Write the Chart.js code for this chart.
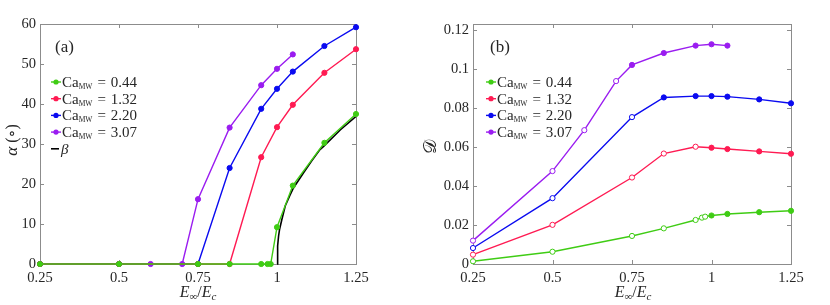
<!DOCTYPE html>
<html>
<head>
<meta charset="utf-8">
<script src="https://cdn.jsdelivr.net/npm/chart.js@4"></script>
<style>
  body { margin: 0; background: #fff; width: 830px; height: 305px; overflow: hidden; position: relative; }
  .panel { position: absolute; top: 0; width: 410px; height: 305px; }
</style>
</head>
<body>
<div class="panel" style="left:0"><canvas id="chartA" width="410" height="305"></canvas></div>
<div class="panel" style="left:420px"><canvas id="chartB" width="410" height="305"></canvas></div>
<script>
// capillary numbers and colours
const caLabels = ['0.44', '1.32', '2.20', '3.07'];
const colors = ['#3fcc14', '#ff1a52', '#0a0af0', '#9a1cf0'];

// E_inf / E_c sample positions
const xGreen = [0.25, 0.5, 0.75, 0.85, 0.95, 0.97, 0.98, 1.0, 1.05, 1.15, 1.25];
const xRed = [0.25, 0.5, 0.75, 0.85, 0.95, 1.0, 1.05, 1.15, 1.25];
const xBlue = [0.25, 0.5, 0.75, 0.85, 0.95, 1.0, 1.05, 1.15, 1.25];
const xPurple = [0.25, 0.5, 0.6, 0.7, 0.75, 0.85, 0.95, 1.0, 1.05];

// (a) tilt angle alpha in degrees
const alphaGreen = [0, 0, 0, 0, 0, 0, 0, 9.2, 19.6, 30.3, 37.5];
const alphaRed = [0, 0, 0, 0, 26.7, 34.2, 39.8, 47.8, 53.7];
const alphaBlue = [0, 0, 0, 24.0, 38.8, 43.8, 48.1, 54.5, 59.2];
const alphaPurple = [0, 0, 0, 0, 16.2, 34.1, 44.7, 48.8, 52.4];

// (a) beta curve
const betaX = [1.0, 1.002, 1.005, 1.008, 1.015, 1.026, 1.04, 1.052, 1.084, 1.11, 1.136, 1.15, 1.2, 1.25];
const betaY = [0, 4.5, 7, 8.6, 11, 14.5, 17, 19, 22.8, 25.8, 28.6, 29.6, 33.5, 36.9];

// (b) deformation D
const dGreen = [0.0014, 0.0063, 0.0144, 0.0183, 0.0226, 0.0238, 0.0243, 0.0249, 0.0257, 0.0266, 0.0273];
const dRed = [0.0048, 0.0201, 0.0444, 0.0567, 0.0602, 0.0597, 0.0590, 0.0578, 0.0566];
const dBlue = [0.0082, 0.0338, 0.0754, 0.0855, 0.0862, 0.0862, 0.0859, 0.0845, 0.0825];
const dPurple = [0.0120, 0.0477, 0.0687, 0.0939, 0.1022, 0.1083, 0.1121, 0.1128, 0.1121];

// (b) open (1) vs filled (0) markers
const openGreen = [1, 1, 1, 1, 1, 1, 1, 0, 0, 0, 0];
const openRed = [1, 1, 1, 1, 1, 0, 0, 0, 0];
const openBlue = [1, 1, 1, 0, 0, 0, 0, 0, 0];
const openPurple = [1, 1, 1, 1, 0, 0, 0, 0, 0];

// ticks
const xTicks = [0.25, 0.5, 0.75, 1, 1.25];
const xTickText = ['0.25', '0.5', '0.75', '1', '1.25'];
const alphaTicks = [0, 10, 20, 30, 40, 50, 60];
const alphaTickText = ['0', '10', '20', '30', '40', '50', '60'];
const dTicks = [0, 0.02, 0.04, 0.06, 0.08, 0.1, 0.12];
const dTickText = ['0', '0.02', '0.04', '0.06', '0.08', '0.1', '0.12'];

const SERIF = '"Liberation Serif", "DejaVu Serif", serif';
const AXIS_GREY = '#8c8c8c';
const TEXT = '#262626';

const pts = (xs, ys) => xs.map((x, i) => ({ x: x, y: ys[i] }));

function series(xs, ys, color, open) {
  return {
    data: pts(xs, ys),
    borderColor: color,
    backgroundColor: color,
    pointBackgroundColor: open ? open.map(o => (o ? '#fff' : color)) : color,
    pointBorderColor: color,
    pointRadius: 2.6,
    pointBorderWidth: 1,
    borderWidth: 1.4,
    tension: 0,
    clip: false
  };
}

// box with inward ticks, drawn under the data
const boxPlugin = {
  id: 'box',
  beforeDatasetsDraw(chart) {
    const { ctx, chartArea: a, scales } = chart;
    ctx.save();
    ctx.strokeStyle = AXIS_GREY;
    ctx.lineWidth = 1;
    ctx.strokeRect(Math.round(a.left) + 0.5, Math.round(a.top) + 0.5,
      Math.round(a.right - a.left), Math.round(a.bottom - a.top));
    ctx.beginPath();
    scales.x.ticks.forEach(t => {
      const px = Math.round(scales.x.getPixelForValue(t.value)) + 0.5;
      ctx.moveTo(px, a.bottom); ctx.lineTo(px, a.bottom - 4);
      ctx.moveTo(px, a.top); ctx.lineTo(px, a.top + 4);
    });
    scales.y.ticks.forEach(t => {
      const py = Math.round(scales.y.getPixelForValue(t.value)) + 0.5;
      ctx.moveTo(a.left, py); ctx.lineTo(a.left + 4, py);
      ctx.moveTo(a.right, py); ctx.lineTo(a.right - 4, py);
    });
    ctx.stroke();
    ctx.restore();
  }
};

function drawSubText(ctx, x, y, parts) {
  // parts: [text, font, dy]
  parts.forEach(p => {
    ctx.font = p[1];
    ctx.fillText(p[0], x, y + (p[2] || 0));
    x += ctx.measureText(p[0]).width;
  });
  return x;
}

function legendPlugin(opts) {
  return {
    id: 'legendBox',
    afterDraw(chart) {
      const ctx = chart.ctx;
      ctx.save();
      ctx.fillStyle = TEXT;
      ctx.textBaseline = 'alphabetic';
      ctx.font = '17px ' + SERIF;
      ctx.fillText(opts.tag, opts.tagX, opts.tagY);
      const f = '15px ' + SERIF;
      caLabels.forEach((lab, i) => {
        const y = opts.y0 + i * opts.dy;
        ctx.strokeStyle = colors[i];
        ctx.lineWidth = 1.4;
        ctx.beginPath();
        ctx.moveTo(opts.x0, y); ctx.lineTo(opts.x0 + 10, y);
        ctx.stroke();
        ctx.fillStyle = colors[i];
        ctx.beginPath();
        ctx.arc(opts.x0 + 5, y, 2.6, 0, Math.PI * 2);
        ctx.fill();
        ctx.fillStyle = TEXT;
        let x = drawSubText(ctx, opts.x0 + 11, y + 5, [
          ['Ca', f, 0],
          ['MW', '7.5px ' + SERIF, 2]
        ]);
        x = drawSubText(ctx, x + 5, y + 5, [['=', f, 0]]);
        drawSubText(ctx, x + 5, y + 5, [[lab, f, 0]]);
      });
      if (opts.beta) {
        const y = opts.y0 + 4 * opts.dy;
        ctx.strokeStyle = '#000';
        ctx.lineWidth = 1.6;
        ctx.beginPath();
        ctx.moveTo(opts.x0, y); ctx.lineTo(opts.x0 + 8, y);
        ctx.stroke();
        ctx.fillStyle = TEXT;
        ctx.font = 'italic 15px ' + SERIF;
        ctx.fillText('\u03b2', opts.x0 + 10, y + 5);
      }
      // x title  E_inf / E_c
      ctx.fillStyle = TEXT;
      const it = 'italic 16px ' + SERIF;
      const sub = '11px ' + SERIF;
      const parts = [
        ['E', it, 0], ['\u221e', sub, 3], ['/', '16px ' + SERIF, 0], ['E', it, 0], ['c', 'italic 11px ' + SERIF, 3]
      ];
      let w = 0;
      parts.forEach(p => { ctx.font = p[1]; w += ctx.measureText(p[0]).width; });
      drawSubText(ctx, opts.xTitleX - w / 2, 297, parts);
      // y title
      ctx.translate(opts.yTitleX, opts.yTitleY);
      ctx.rotate(-Math.PI / 2);
      ctx.textAlign = 'left';
      const yp = opts.yParts;
      let yw = 0;
      yp.forEach(p => { ctx.font = p[1]; yw += ctx.measureText(p[0]).width; });
      drawSubText(ctx, -yw / 2, 0, yp);
      ctx.restore();
    }
  };
}

function makeScales(yMin, yMax, yTicks, yText, yWidth) {
  return {
    x: {
      type: 'linear', min: 0.25, max: 1.25,
      grid: { display: false, drawTicks: false }, border: { display: false },
      afterBuildTicks: s => { s.ticks = xTicks.map(v => ({ value: v })); },
      afterFit: s => { s.height = 41; },
      ticks: { padding: 5, color: TEXT, font: { family: SERIF, size: 14.5 }, maxRotation: 0,
        callback: (v, i) => xTickText[i] }
    },
    y: {
      type: 'linear', min: yMin, max: yMax,
      grid: { display: false, drawTicks: false }, border: { display: false },
      afterBuildTicks: s => { s.ticks = yTicks.map(v => ({ value: v })); },
      afterFit: s => { s.width = yWidth; },
      ticks: { padding: 4, color: TEXT, font: { family: SERIF, size: 14.5 },
        callback: (v, i) => yText[i] }
    }
  };
}

const baseOptions = {
  responsive: false,
  animation: false,
  devicePixelRatio: 1,
  plugins: { legend: { display: false }, tooltip: { enabled: false } }
};

new Chart(document.getElementById('chartA'), {
  type: 'line',
  data: {
    datasets: [
      series(xGreen, alphaGreen, colors[0]),
      series(xRed, alphaRed, colors[1]),
      series(xBlue, alphaBlue, colors[2]),
      series(xPurple, alphaPurple, colors[3]),
      Object.assign(series(betaX, betaY, '#000'), { pointRadius: 0, borderWidth: 1.6 })
    ]
  },
  options: Object.assign({}, baseOptions, {
    layout: { padding: { top: 24, right: 54, left: 0, bottom: 0 } },
    scales: makeScales(0, 60, alphaTicks, alphaTickText, 40)
  }),
  plugins: [boxPlugin, legendPlugin({
    tag: '(a)', tagX: 55, tagY: 52,
    x0: 51, y0: 82, dy: 16.7, beta: true,
    xTitleX: 198, yTitleX: 17, yTitleY: 140,
    yParts: [['\u03b1', 'italic 17px ' + SERIF, 0], [' (\u2218)', '16px ' + SERIF, 0]]
  })]
});

new Chart(document.getElementById('chartB'), {
  type: 'line',
  data: {
    datasets: [
      series(xGreen, dGreen, colors[0], openGreen),
      series(xRed, dRed, colors[1], openRed),
      series(xBlue, dBlue, colors[2], openBlue),
      series(xPurple, dPurple, colors[3], openPurple)
    ]
  },
  options: Object.assign({}, baseOptions, {
    layout: { padding: { top: 24, right: 39, left: 0, bottom: 0 } },
    scales: makeScales(0, 0.1232, dTicks, dTickText, 53)
  }),
  plugins: [boxPlugin, legendPlugin({
    tag: '(b)', tagX: 70, tagY: 52,
    x0: 66, y0: 82, dy: 16.7, beta: false,
    xTitleX: 213, yTitleX: 16, yTitleY: 147,
    yParts: [['\ud835\udc9f', '18px "DejaVu Serif", "Noto Sans", serif', 0]]
  })]
});
</script>
</body>
</html>
